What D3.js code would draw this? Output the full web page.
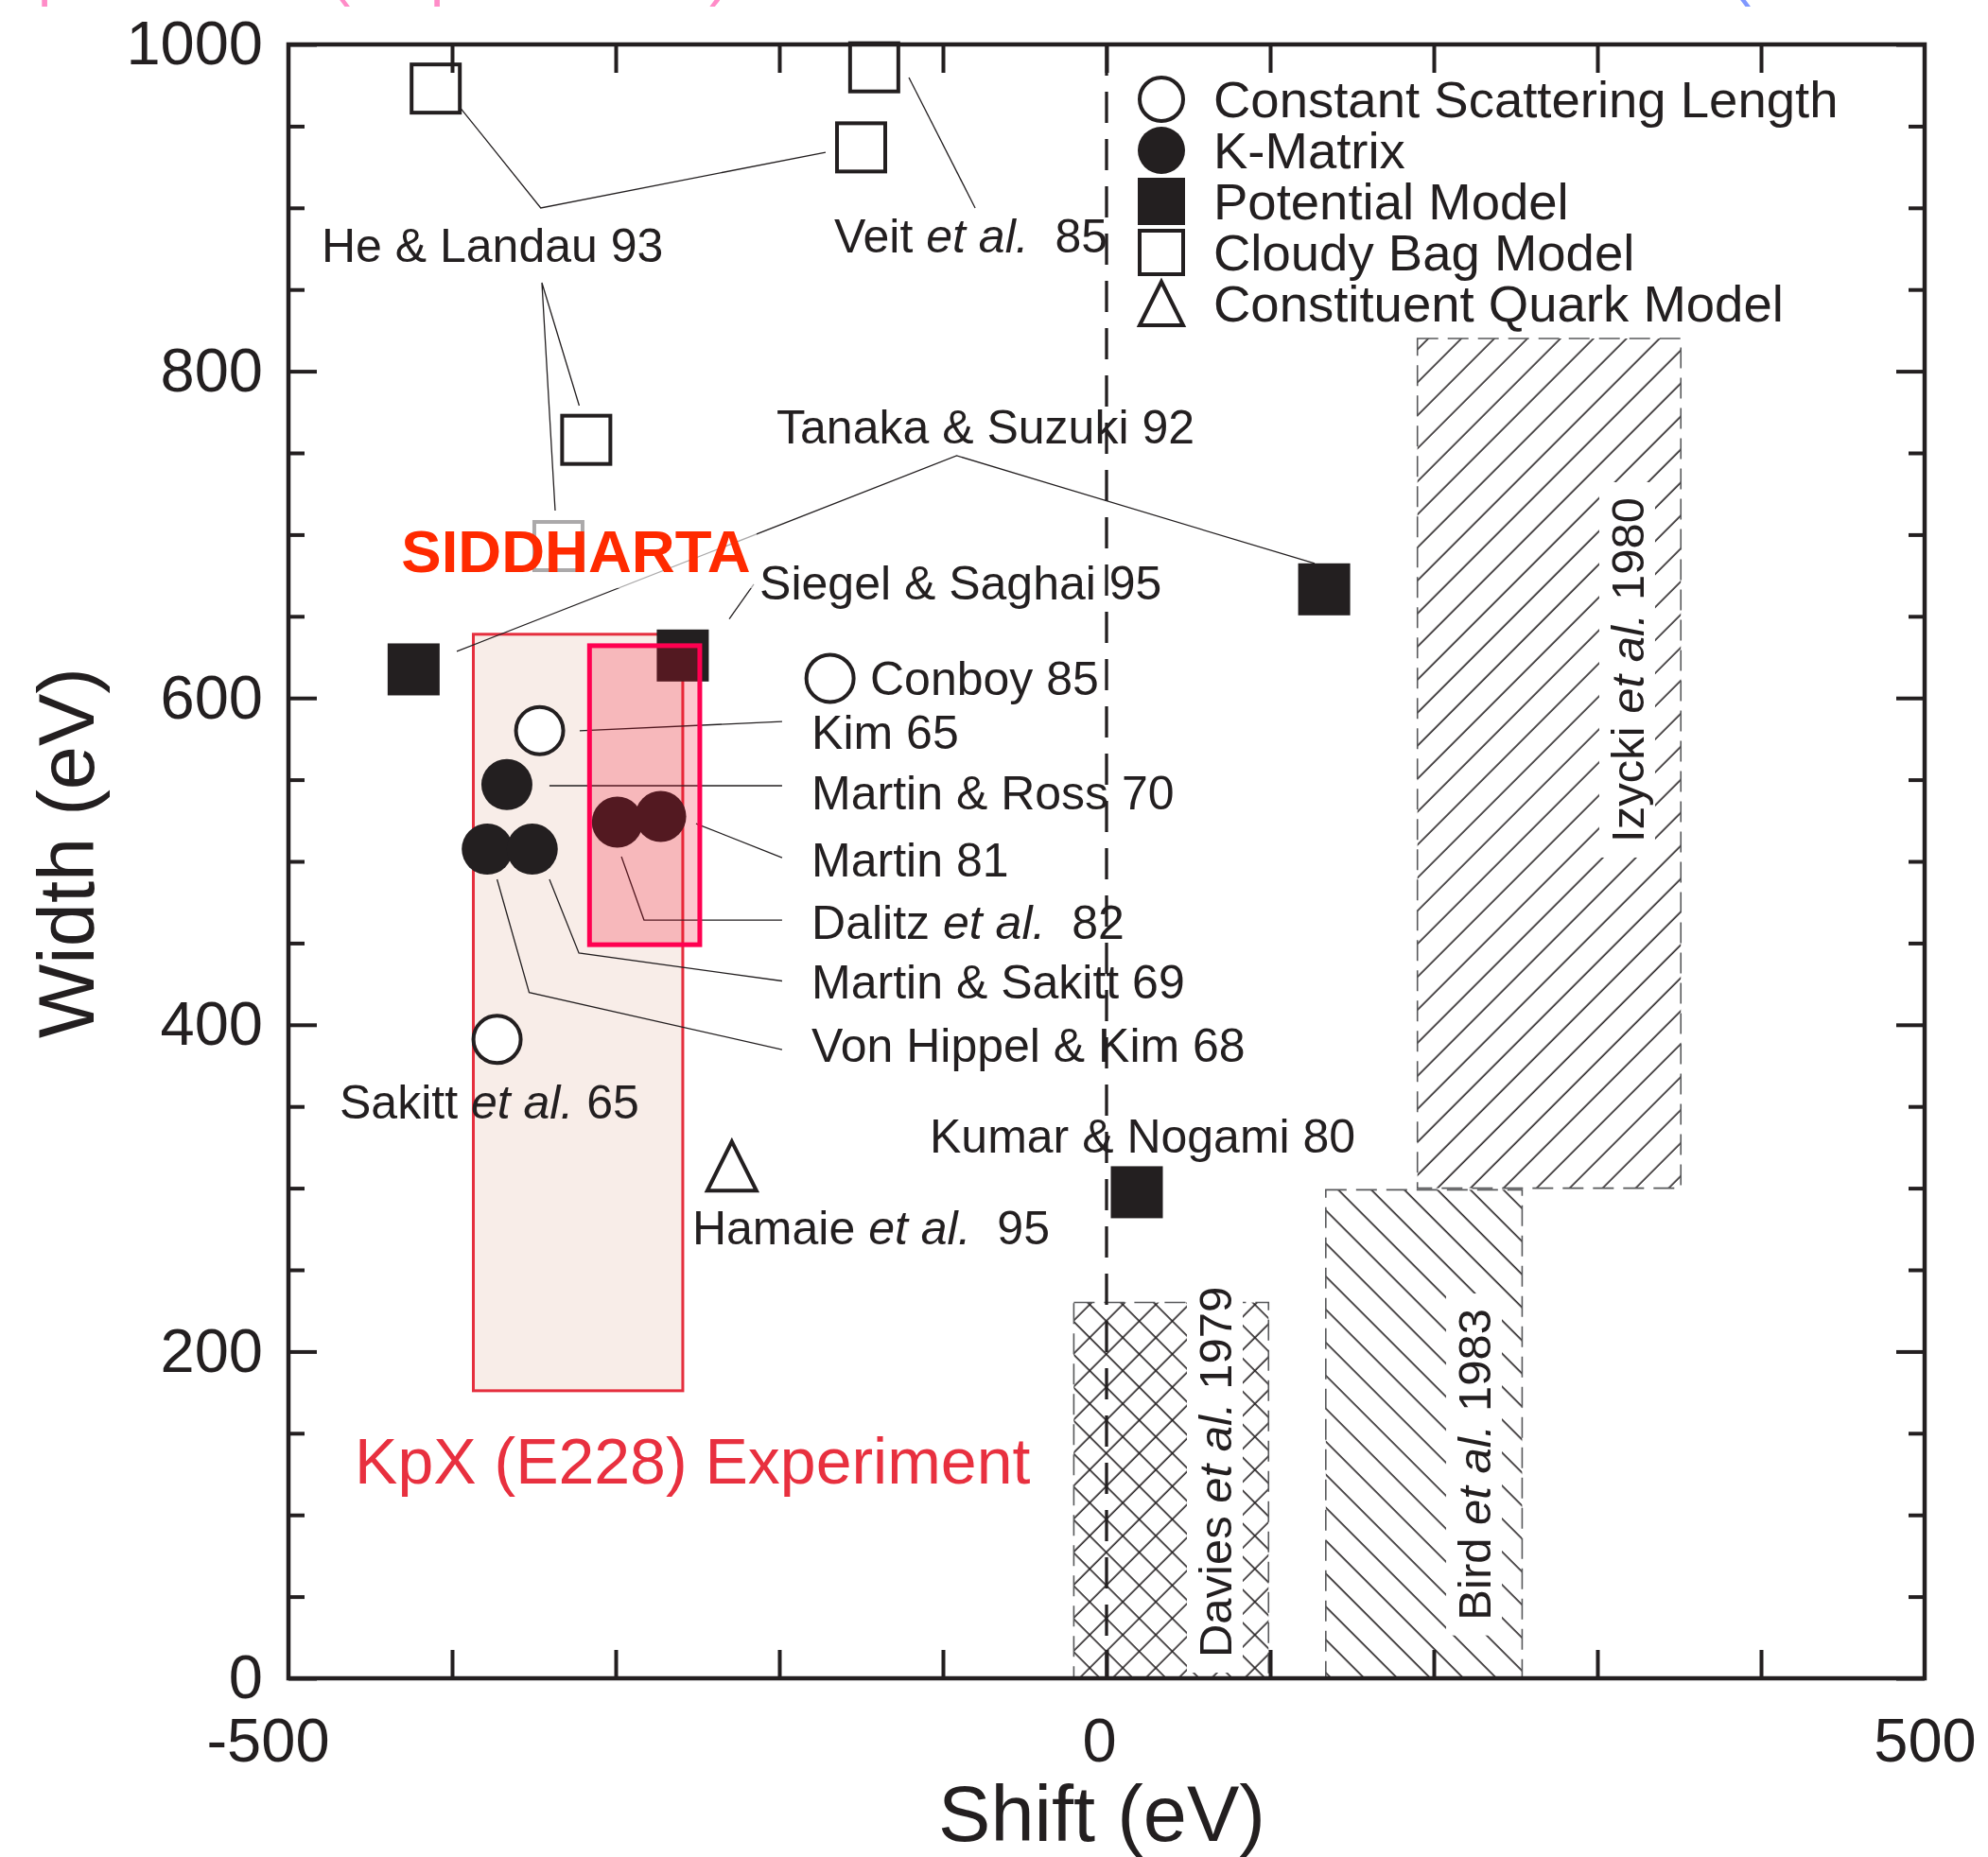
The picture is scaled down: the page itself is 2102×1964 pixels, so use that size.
<!DOCTYPE html>
<meta charset="utf-8">
<style>
body{margin:0;background:#fff}
svg{display:block;background:#fff}
text{font-family:'Liberation Sans',Arial,Helvetica,sans-serif;white-space:pre}
</style>
<svg id="chart"></svg>
<script src="https://d3js.org/d3.v7.min.js"></script>
<script>

// axes
var xDomain = [-500, 500]
var yDomain = [0, 1000]
var xTickLabels = [-500, 0, 500]
var yTickLabels = [0, 200, 400, 600, 800, 1000]

// legend
var legendNames = ['Constant Scattering Length', 'K-Matrix', 'Potential Model', 'Cloudy Bag Model', 'Constituent Quark Model']
var legendShapes = ['openCircle', 'filledCircle', 'filledSquare', 'openSquare', 'triangle']

// theory predictions, [shift eV, width eV]
var constScatLen = [[-346.5, 580], [-372.5, 391], [-169, 612]]
var kMatrix = [[-366.5, 547], [-378.5, 507.5], [-351, 507.5], [-299, 524], [-272.5, 527.5]]
var potentialModel = [[-423.5, 617.5], [-259, 626], [133, 666.5], [18.5, 297.5]]
var cloudyBag = [[-410, 973], [-142, 986], [-150, 937], [-318, 758], [-335, 693]]
var quarkModel = [[-229, 313.5]]

// experiments: [shift min, shift max, width min, width max]
var kpxBox = [-387, -259, 176, 639]
var siddhartaBox = [-316, -248.6, 449, 632]

// older experiments drawn hatched
var hatchNames = [['Davies ', 'et al.', ' 1979'], ['Bird ', 'et al.', ' 1983'], ['Izycki ', 'et al.', ' 1980']]
var hatchShift = [[-20, 99], [134, 254], [190, 351]]
var hatchWidth = [[0, 230], [0, 299], [300, 820]]
var hatchKind = ['cross', 'back', 'fwd']
var hatchLabelAt = [[76.3, 12.7], [234.7, 35.5], [328.3, 511.6]]

// reference labels (plain / italic / plain) and where they start
var labelText = [
  ['He & Landau 93'], ['Veit ', 'et al.', '  85'], ['Tanaka & Suzuki 92'], ['Siegel & Saghai 95'],
  ['Conboy 85'], ['Kim 65'], ['Martin & Ross 70'], ['Martin 81'], ['Dalitz ', 'et al.', '  82'],
  ['Martin & Sakitt 69'], ['Von Hippel & Kim 68'], ['Sakitt ', 'et al.', ' 65'],
  ['Kumar & Nogami 80'], ['Hamaie ', 'et al.', '  95']
]
var labelAt = [
  [-479.8, 866.9], [-166.5, 872.7], [-201.7, 755.8], [-212.1, 660.3],
  [-144.5, 601.9], [-180.3, 568.9], [-180.3, 531.8], [-180.3, 490.7], [-180.3, 452.5],
  [-180.3, 416.1], [-180.3, 377.3], [-468.8, 342.6],
  [-108.1, 321.8], [-253.2, 265.6]
]

// leader lines from labels to points
var leaders = [
  [[-397.3, 964.1], [-345.8, 899.9], [-171.7, 934.0]],
  [[-322.3, 778.9], [-345.1, 854.2], [-337.0, 714.7]],
  [[-120.8, 979.7], [-80.3, 899.9]],
  [[-397.1, 628.5], [-91.6, 748.3], [127.2, 682.3]],
  [[-215.6, 669.6], [-230.6, 648.4]],
  [[-322, 579.9], [-198.3, 585.6]],
  [[-340.5, 546.3], [-198.3, 546.3]],
  [[-250.9, 523.1], [-198.3, 502.3]],
  [[-296.5, 502.9], [-282.7, 464.1], [-198.3, 464.1]],
  [[-340.5, 489], [-322.5, 443.9], [-198.3, 426.8]],
  [[-372.5, 489], [-352.9, 419.8], [-198.3, 384.8]]
]

var kpxLabel = 'KpX (E228) Experiment'
var kpxLabelAt = [-459.5, 119.2]
var siddLabel = 'SIDDHARTA'
var siddLabelAt = [-431, 677.1]
var siddVeil = [-433.5, -213.9, 667.2, 714.7]

var width = 2102, height = 1964
var ink = '#231f20'

var svg = d3.select('#chart').attr('width', width).attr('height', height)
var x = d3.scaleLinear().domain(xDomain).range([305, 2035])
var y = d3.scaleLinear().domain(yDomain).range([1775, 47])

// cut-off title line at the very top
var titleBits = svg.append('text').attr('y', -6).style('font-size', '64px')
titleBits.append('tspan').attr('x', 40).attr('fill', '#ff8cc8').text('p')
titleBits.append('tspan').attr('x', 349).attr('fill', '#ff8cc8').text('(')
titleBits.append('tspan').attr('x', 455).attr('fill', '#ff8cc8').text('p')
titleBits.append('tspan').attr('x', 750).attr('fill', '#ff8cc8').text(')')
titleBits.append('tspan').attr('x', 1830).attr('fill', '#7f98ff').text('(')

var defs = svg.append('defs')
function hatch(id, angle) {
  var p = defs.append('pattern').attr('id', id).attr('patternUnits', 'userSpaceOnUse')
    .attr('width', 24.7).attr('height', 24.7)
    .attr('patternTransform', 'rotate(' + angle + ')')
  p.append('line').attr('x1', 12).attr('x2', 12).attr('y1', -1).attr('y2', 26)
    .attr('stroke', ink).attr('stroke-width', 1.6)
}
hatch('fwd', 45)
hatch('back', -45)

function rectOf(g, sx, wy) {
  return g.append('rect')
    .attr('x', x(sx[0])).attr('width', x(sx[1]) - x(sx[0]))
    .attr('y', y(wy[1])).attr('height', y(wy[0]) - y(wy[1]))
}

// KpX box
rectOf(svg, [kpxBox[0], kpxBox[1]], [kpxBox[2], kpxBox[3]])
  .attr('fill', '#f8ede8').attr('stroke', '#e52f3e').attr('stroke-width', 3)

// hatched regions
var hatchG = svg.append('g')
hatchNames.forEach(function(name, i) {
  var kind = hatchKind[i]
  if (kind == 'cross' || kind == 'fwd') rectOf(hatchG, hatchShift[i], hatchWidth[i]).attr('fill', 'url(#fwd)')
  if (kind == 'cross' || kind == 'back') rectOf(hatchG, hatchShift[i], hatchWidth[i]).attr('fill', 'url(#back)')
  rectOf(hatchG, hatchShift[i], hatchWidth[i]).attr('fill', 'none')
    .attr('stroke', '#58595b').attr('stroke-width', 1.6).attr('stroke-dasharray', '22,10')

  var lg = hatchG.append('g')
    .attr('transform', 'translate(' + x(hatchLabelAt[i][0]) + ',' + y(hatchLabelAt[i][1]) + ') rotate(-90)')
  var t = lg.append('text').style('font-size', '49px').attr('fill', ink)
  name.forEach(function(part, j) {
    t.append('tspan').style('font-style', j == 1 ? 'italic' : 'normal').text(part)
  })
  var bb = t.node().getBBox()
  lg.insert('rect', 'text').attr('x', bb.x - 16).attr('y', bb.y - 3)
    .attr('width', bb.width + 32).attr('height', bb.height + 5).attr('fill', '#fff')
})

// zero shift line
svg.append('line').attr('x1', x(0)).attr('x2', x(0)).attr('y1', y(1000)).attr('y2', y(0))
  .attr('stroke', ink).attr('stroke-width', 3.3).attr('stroke-dasharray', '33,17')

// leader lines
var line = d3.line().x(function(d) { return x(d[0]) }).y(function(d) { return y(d[1]) })
svg.append('g').selectAll('path').data(leaders).enter().append('path')
  .attr('d', line).attr('fill', 'none').attr('stroke', ink).attr('stroke-width', 1.3)

// markers
function drawMarker(g, shape, cx, cy, s) {
  var sw = 4
  if (shape == 'openCircle') {
    g.append('circle').attr('cx', cx).attr('cy', cy).attr('r', s / 2 - sw / 2)
      .attr('fill', '#fff').attr('stroke', ink).attr('stroke-width', sw)
  } else if (shape == 'filledCircle') {
    g.append('circle').attr('cx', cx).attr('cy', cy).attr('r', s / 2).attr('fill', ink)
  } else if (shape == 'filledSquare') {
    g.append('rect').attr('x', cx - s / 2).attr('y', cy - s / 2).attr('width', s).attr('height', s).attr('fill', ink)
  } else if (shape == 'openSquare') {
    g.append('rect').attr('x', cx - s / 2 + sw / 2).attr('y', cy - s / 2 + sw / 2)
      .attr('width', s - sw).attr('height', s - sw)
      .attr('fill', '#fff').attr('stroke', ink).attr('stroke-width', sw)
  } else if (shape == 'triangle') {
    var h = s / 2 - 2
    g.append('path').attr('d', 'M' + cx + ',' + (cy - h) + 'L' + (cx + h) + ',' + (cy + h) + 'L' + (cx - h) + ',' + (cy + h) + 'Z')
      .attr('fill', '#fff').attr('stroke', ink).attr('stroke-width', sw).attr('stroke-linejoin', 'miter')
  }
}

var marks = svg.append('g')
var series = [[cloudyBag, 'openSquare', 55], [potentialModel, 'filledSquare', 55],
  [constScatLen, 'openCircle', 54], [kMatrix, 'filledCircle', 54], [quarkModel, 'triangle', 56]]
series.forEach(function(s) {
  s[0].forEach(function(d) { drawMarker(marks, s[1], x(d[0]), y(d[1]), s[2]) })
})

// SIDDHARTA box over the points
rectOf(svg, [siddhartaBox[0], siddhartaBox[1]], [siddhartaBox[2], siddhartaBox[3]])
  .attr('fill', '#f50a28').attr('fill-opacity', 0.23)
  .attr('stroke', '#ff0050').attr('stroke-width', 5)

// reference labels
var labels = svg.append('g')
labelText.forEach(function(parts, i) {
  var t = labels.append('text').attr('x', x(labelAt[i][0])).attr('y', y(labelAt[i][1]))
    .style('font-size', '50px').attr('fill', ink)
  parts.forEach(function(part, j) {
    t.append('tspan').style('font-style', j == 1 ? 'italic' : 'normal').text(part)
  })
})

// SIDDHARTA label on a light veil
rectOf(svg, [siddVeil[0], siddVeil[1]], [siddVeil[2], siddVeil[3]]).attr('fill', '#fff').attr('fill-opacity', 0.62)
svg.append('text').attr('x', x(siddLabelAt[0])).attr('y', y(siddLabelAt[1]))
  .style('font-size', '63.5px').style('font-weight', 'bold').attr('fill', '#ff2a00').text(siddLabel)

svg.append('text').attr('x', x(kpxLabelAt[0])).attr('y', y(kpxLabelAt[1]))
  .style('font-size', '68px').attr('fill', '#e8303f').text(kpxLabel)

// legend
var legend = svg.append('g')
legendNames.forEach(function(name, i) {
  var cy = 105 + i * 54
  drawMarker(legend, legendShapes[i], 1228, cy, 50)
  legend.append('text').attr('x', 1283).attr('y', cy + 18.5)
    .style('font-size', '54.5px').attr('fill', ink).text(name)
})

// frame and ticks
var axes = svg.append('g')
var inner = d3.range(-400, 401, 100)
var minorY = d3.range(50, 1000, 50).filter(function(v) { return v % 200 != 0 })
axes.append('g').attr('transform', 'translate(0,' + y(0) + ')')
  .call(d3.axisBottom(x).tickValues(inner).tickSize(-30).tickFormat(''))
axes.append('g').attr('transform', 'translate(0,' + y(1000) + ')')
  .call(d3.axisTop(x).tickValues(inner).tickSize(-30).tickFormat(''))
axes.append('g').attr('transform', 'translate(' + x(-500) + ',0)')
  .call(d3.axisLeft(y).tickValues(minorY).tickSize(-17).tickFormat(''))
axes.append('g').attr('transform', 'translate(' + x(500) + ',0)')
  .call(d3.axisRight(y).tickValues(minorY).tickSize(-17).tickFormat(''))
axes.append('g').attr('transform', 'translate(' + x(500) + ',0)')
  .call(d3.axisRight(y).tickValues(yTickLabels).tickSize(-30).tickFormat(''))

var yl = axes.append('g').attr('transform', 'translate(' + x(-500) + ',0)')
  .call(d3.axisLeft(y).tickValues(yTickLabels).tickSize(-30).tickPadding(27).tickFormat(function(d) { return String(d) }))
yl.selectAll('text').style('font-size', '65px').attr('fill', ink)

var xl = axes.append('g').attr('transform', 'translate(0,' + y(0) + ')')
  .call(d3.axisBottom(x).tickValues(xTickLabels).tickSize(0).tickPadding(42).tickFormat(function(d) { return String(d) }))
xl.selectAll('text').style('font-size', '65px').attr('fill', ink)
  .attr('dx', function(d) { return d < 0 ? -22 : d === 0 ? -8 : 0 })

axes.selectAll('.domain').remove()
axes.selectAll('.tick line').attr('stroke', ink).attr('stroke-width', 4)
axes.selectAll('g').attr('font-family', null)

axes.append('rect').attr('x', x(-500)).attr('y', y(1000))
  .attr('width', x(500) - x(-500)).attr('height', y(0) - y(1000))
  .attr('fill', 'none').attr('stroke', ink).attr('stroke-width', 4.5)

svg.append('text').attr('x', 1165).attr('y', 1947).attr('text-anchor', 'middle')
  .style('font-size', '83px').attr('fill', ink).text('Shift (eV)')
svg.append('text').attr('transform', 'translate(99,902) rotate(-90)').attr('text-anchor', 'middle')
  .style('font-size', '83px').attr('fill', ink).text('Width (eV)')

</script>
